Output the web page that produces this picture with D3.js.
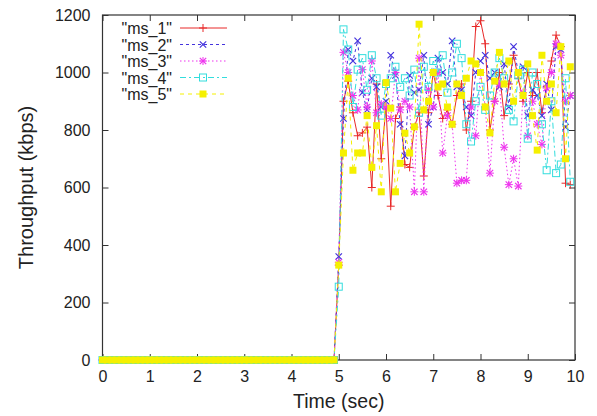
<!DOCTYPE html>
<html>
<head>
<meta charset="utf-8">
<script src="https://cdn.jsdelivr.net/npm/d3@7"></script>
<style>
body { margin: 0; background: #fff; }
text { font-family: "Liberation Sans", Arial, sans-serif; }
</style>
</head>
<body>
<div id="chart"></div>
<script>

var W = 597, H = 416;
var margin = {top: 15, right: 22, bottom: 56, left: 102.5};
var width = W - margin.left - margin.right,
    height = H - margin.top - margin.bottom;

// data: 0.1 s samples, 0..4.9 s are all zero, then 5.0..9.9 s
var names = ["ms_1", "ms_2", "ms_3", "ms_4", "ms_5"];
var xTicks = [0, 1, 2, 3, 4, 5, 6, 7, 8, 9, 10];
var yTicks = [0, 200, 400, 600, 800, 1000, 1200];

var ms1 = [330, 900, 970, 860, 780, 790, 810, 600, 960, 700,
           880, 535, 840, 880, 680, 670, 810, 860, 640, 860,
           1000, 920, 840, 870, 820, 920, 960, 800, 900, 1160,
           1180, 1100, 800, 900, 1000, 850, 960, 1060, 980, 900,
           1000, 920, 1000, 860, 950, 1040, 1130, 1090, 615, 610];
var ms2 = [360, 840, 1080, 1040, 1110, 930, 870, 980, 950, 880,
           900, 1060, 990, 820, 710, 990, 930, 940, 1060, 820,
           880, 1050, 1000, 960, 1110, 950, 940, 880, 850, 1000,
           1040, 1060, 980, 1000, 950, 1030, 880, 1090, 1000, 1020,
           850, 940, 920, 850, 960, 870, 1090, 1080, 810, 920];
var ms3 = [340, 1070, 1000, 920, 870, 1010, 880, 1040, 860, 890,
           880, 840, 1000, 870, 900, 880, 585, 1050, 585, 940,
           880, 1000, 720, 850, 820, 615, 625, 625, 880, 780,
           1000, 880, 650, 900, 960, 740, 610, 700, 605, 930,
           780, 900, 820, 750, 946, 1000, 1100, 1060, 900, 920];
var ms4 = [255, 1150, 1080, 880, 1010, 1050, 940, 1060, 980, 850,
           960, 980, 1020, 950, 980, 920, 1010, 860, 1020, 950,
           1040, 1000, 1060, 930, 1000, 1100, 1050, 820, 760, 900,
           950, 870, 920, 1000, 1050, 980, 870, 830, 990, 1010,
           770, 1000, 960, 820, 660, 900, 650, 680, 980, 620];
var ms5 = [330, 720, 980, 660, 720, 720, 850, 670, 815, 585,
           965, 876, 585, 684, 789, 720, 811, 1168, 870, 900,
           1000, 950, 960, 880, 820, 960, 920, 980, 1040, 1030,
           1000, 880, 790, 970, 1070, 960, 1040, 900, 1000, 920,
           1030, 850, 730, 1060, 900, 960, 860, 1090, 700, 1020];

function series(vals) {
  var pts = [];
  for (var i = 0; i < 50; i++) pts.push({t: i / 10, v: 0});
  vals.forEach(function(v, i) { pts.push({t: 5 + i / 10, v: v}); });
  return pts;
}
var all = [ms1, ms2, ms3, ms4, ms5].map(series);

var colors = ["#e82828", "#4433dd", "#ee33ee", "#33dddd", "#f5f000"];
var dashes = [null, "3,3", "1.5,2.5", "6,3,2,3", "4,4"];
var shapes = ["plus", "cross", "star", "box", "fbox"];

var svg = d3.select("#chart").append("svg")
    .attr("width", W)
    .attr("height", H);

var g = svg.append("g")
    .attr("transform", "translate(" + margin.left + "," + margin.top + ")");

var x = d3.scaleLinear().domain([0, 10]).range([0, width]);
var y = d3.scaleLinear().domain([0, 1200]).range([height, 0]);

// axes (ticks pointing inward, mirrored)
var tk = 6;
g.append("g").attr("transform", "translate(0," + height + ")")
  .call(d3.axisBottom(x).tickValues(xTicks).tickSize(-tk).tickPadding(tk + 5))
  .call(function(a) { a.select(".domain").remove(); });
g.append("g").attr("transform", "translate(0,0)")
  .call(d3.axisTop(x).tickValues(xTicks).tickSize(-tk).tickFormat(""))
  .call(function(a) { a.select(".domain").remove(); });
g.append("g")
  .call(d3.axisLeft(y).tickValues(yTicks).tickFormat(d3.format("d")).tickSize(-tk).tickPadding(tk + 6))
  .call(function(a) { a.select(".domain").remove(); });
g.append("g").attr("transform", "translate(" + width + ",0)")
  .call(d3.axisRight(y).tickValues(yTicks).tickSize(-tk).tickFormat(""))
  .call(function(a) { a.select(".domain").remove(); });

g.selectAll(".tick line").attr("stroke", "#333");
g.selectAll(".tick text").attr("font-size", 16).attr("fill", "#222")
  .style("font-family", "Liberation Sans, Arial, sans-serif");

g.append("rect")
  .attr("width", width).attr("height", height)
  .attr("fill", "none").attr("stroke", "#333").attr("stroke-width", 1.2);

var line = d3.line().x(function(d) { return x(d.t); }).y(function(d) { return y(d.v); });

function marker(sel, shape, col, s) {
  if (shape == "plus" || shape == "star") {
    sel.append("path").attr("d", "M" + (-s) + ",0H" + s + "M0," + (-s) + "V" + s)
      .attr("stroke", col).attr("stroke-width", 1).attr("fill", "none");
  }
  if (shape == "cross" || shape == "star") {
    var c = s * 0.8;
    sel.append("path").attr("d", "M" + (-c) + "," + (-c) + "L" + c + "," + c + "M" + (-c) + "," + c + "L" + c + "," + (-c))
      .attr("stroke", col).attr("stroke-width", 1.2).attr("fill", "none");
  }
  if (shape == "box") {
    sel.append("rect").attr("x", -s + 0.5).attr("y", -s + 0.5).attr("width", 2 * s - 1).attr("height", 2 * s - 1)
      .attr("stroke", col).attr("stroke-width", 1).attr("fill", "none");
  }
  if (shape == "fbox") {
    sel.append("rect").attr("x", -s + 0.5).attr("y", -s + 0.5).attr("width", 2 * s - 1).attr("height", 2 * s - 1)
      .attr("fill", col);
  }
}

all.forEach(function(pts, i) {
  var sg = g.append("g");
  sg.append("path").datum(pts)
    .attr("d", line)
    .attr("fill", "none")
    .attr("stroke", colors[i])
    .attr("stroke-width", 1)
    .attr("stroke-dasharray", dashes[i]);
  sg.selectAll(".m").data(pts).enter().append("g")
    .attr("transform", function(d) { return "translate(" + x(d.t) + "," + y(d.v) + ")"; })
    .each(function() { marker(d3.select(this), shapes[i], colors[i], 4); });
});

// legend
var lg = svg.append("g");
names.forEach(function(n, i) {
  var yy = 28 + i * 16.5;
  lg.append("text").attr("x", 172).attr("y", yy + 6)
    .attr("text-anchor", "end").attr("font-size", 16).attr("fill", "#222")
    .text('"' + n + '"');
  lg.append("line").attr("x1", 180).attr("x2", 227).attr("y1", yy).attr("y2", yy)
    .attr("stroke", colors[i]).attr("stroke-width", 1).attr("stroke-dasharray", dashes[i]);
  var mg = lg.append("g").attr("transform", "translate(203," + yy + ")");
  marker(mg, shapes[i], colors[i], 4);
});

// axis titles
svg.append("text").attr("x", margin.left + width / 2).attr("y", 408)
  .attr("text-anchor", "middle").attr("font-size", 19.5).attr("fill", "#222")
  .text("Time (sec)");
svg.append("text")
  .attr("transform", "translate(33," + (margin.top + height / 2) + ") rotate(-90)")
  .attr("text-anchor", "middle").attr("font-size", 20).attr("fill", "#222")
  .text("Throughput (kbps)");

</script>
</body>
</html>
